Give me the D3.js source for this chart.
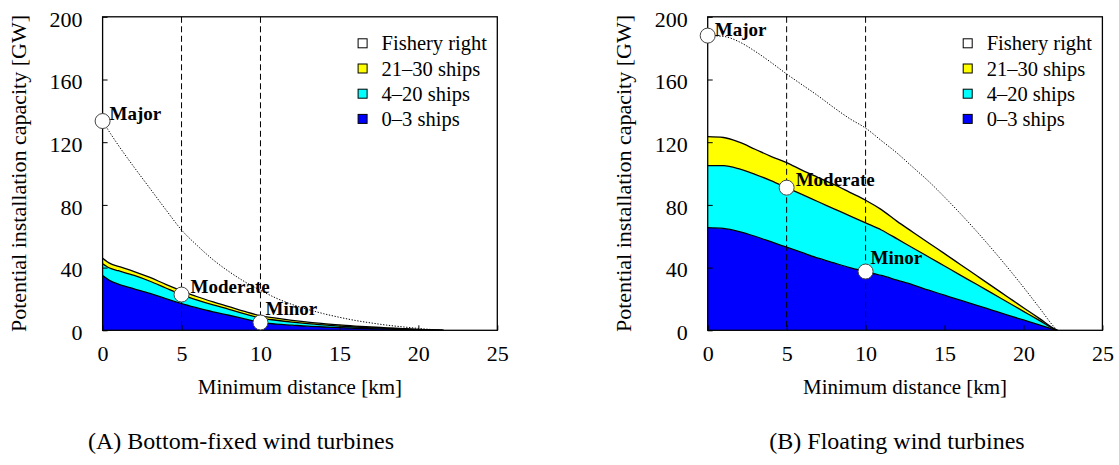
<!DOCTYPE html>
<html><head><meta charset="utf-8">
<script src="https://cdn.jsdelivr.net/npm/d3@7"></script>
<style>
body{margin:0;background:#fff}
text{font-family:"Liberation Serif","Times New Roman",serif;fill:#000}
</style>
</head><body>
<svg id="chart" width="1119" height="465"></svg>
<script>
// ---------- data ----------
const seriesNames = ["0–3 ships", "4–20 ships", "21–30 ships"];
const legendNames = ["Fishery right", "21–30 ships", "4–20 ships", "0–3 ships"];
const xTicks = [0, 5, 10, 15, 20, 25];
const yTicks = [0, 40, 80, 120, 160, 200];
const markerNames = ["Major", "Moderate", "Minor"];
const markerDist = [0, 5, 10];

// (A) Bottom-fixed
const kmA      = [0,0.5,1,2,3,4,5,6,7,8,9,10,11,12,13,14,15,16,17,18,19,20,21,21.6];
const a_0_3    = [35,31.5,29.5,26.5,23.5,20.2,17,14.3,11.8,9.6,7.3,5.0,4.0,3.3,2.6,2.1,1.7,1.3,1.0,0.8,0.5,0.3,0.1,0];
const a_4_20   = [7.5,8,8.5,8.5,7.8,6.8,5.8,5.0,4.4,3.8,3.2,2.8,2.4,1.9,1.6,1.3,1.0,0.8,0.6,0.4,0.3,0.1,0.05,0];
const a_21_30  = [3.5,3.0,2.8,2.5,2.4,2.3,2.4,2.1,1.9,1.7,1.5,1.5,1.3,1.1,1.0,0.9,0.7,0.6,0.5,0.4,0.3,0.2,0.05,0];
const a_fish   = [133.5,125.5,118,104,90.5,77,64,54,45,37.5,31,25.5,20.5,16.5,13.3,10.6,8.3,6.3,4.7,3.3,2.2,1.2,0.4,0];

// (B) Floating
const kmB      = [0,1,2,3,4,5,6,7,8,9,10,11,12,13,14,15,16,17,18,19,20,21,22,22.15];
const b_0_3    = [65.5,65,63,60,56.5,53,49.5,46,43,40,37.5,35,32,29,25.6,22.4,19.2,16.1,12.9,9.7,6.6,3.5,0.3,0];
const b_4_20   = [39.5,40,40,39.5,39,38,37,36,34.5,33,31,29,26.3,23.5,21.2,18.6,16,13.4,10.8,8.2,5.5,2.8,0.3,0];
const b_21_30  = [18.5,18,17,16,15.5,16,15.5,15.5,15.5,15,14.5,13,11.2,10.1,8.9,7.9,6.8,5.6,4.5,3.4,2.3,1.3,0.1,0];
const b_fish   = [188,187.5,184,178,171,163.5,156.5,149.5,142,135,129,121,113,104,95,85,74.5,63.5,52,40,27.5,14.5,1.5,0];

const captions = ["(A) Bottom-fixed wind turbines", "(B) Floating wind turbines"];

// ---------- styles / layout ----------
const colors = {"0–3 ships":"#0000ff","4–20 ships":"#00ffff","21–30 ships":"#ffff00","Fishery right":"#ffffff"};
const W = 394.7, H = 313.5, TOP = 16.8;
const panels = [
  {left:102.6, km:kmA, s:[a_0_3,a_4_20,a_21_30], fish:a_fish, cap:captions[0], capX:241,
   lab:[[7,-1],[9,-2],[5,-7]]},
  {left:707.7, km:kmB, s:[b_0_3,b_4_20,b_21_30], fish:b_fish, cap:captions[1], capX:897,
   lab:[[7,0],[9,-2],[5,-8]]}
];

const svg = d3.select("#chart");
svg.append("rect").attr("width",1119).attr("height",465).attr("fill","#fff");

panels.forEach(p => {
  const g = svg.append("g").attr("transform",`translate(${p.left},${TOP})`);
  const x = d3.scaleLinear().domain([0,25]).range([0,W]);
  const y = d3.scaleLinear().domain([0,200]).range([H,0]);

  const rows = p.km.map((k,i)=>{
    const r = {km:k, fish:p.fish[i]};
    seriesNames.forEach((n,j)=> r[n] = p.s[j][i]);
    return r;
  });
  const stack = d3.stack().keys(seriesNames)(rows);
  const curve = d3.curveMonotoneX;

  g.append("path").datum(rows)
    .attr("d", d3.area().curve(curve).x(d=>x(d.km)).y0(y(0)).y1(d=>y(d.fish)))
    .attr("fill", colors["Fishery right"]);

  const area = d3.area().curve(curve).x(d=>x(d.data.km)).y0(d=>y(d[0])).y1(d=>y(d[1]));
  const topLine = d3.line().curve(curve).x(d=>x(d.data.km)).y(d=>y(d[1]));
  g.selectAll(".layer").data(stack).enter().append("path")
    .attr("d", area).attr("fill", d=>colors[d.key]);
  g.selectAll(".topline").data(stack).enter().append("path")
    .attr("d", topLine).attr("fill","none").attr("stroke","#000").attr("stroke-width",1.3);

  g.append("path").datum(rows)
    .attr("d", d3.line().curve(curve).x(d=>x(d.km)).y(d=>y(d.fish)))
    .attr("fill","none").attr("stroke","#000").attr("stroke-width",1)
    .attr("stroke-dasharray","1.3,1.6");

  [5,10].forEach(v=>{
    g.append("line").attr("x1",x(v)).attr("x2",x(v)).attr("y1",0).attr("y2",H)
      .attr("stroke","#000").attr("stroke-width",1).attr("stroke-dasharray","6,3.5");
  });

  const ya = g.append("g").call(d3.axisLeft(y).tickValues(yTicks).tickSize(-5).tickPadding(20));
  const xa = g.append("g").attr("transform",`translate(0,${H})`)
    .call(d3.axisBottom(x).tickValues(xTicks).tickSize(-5).tickPadding(15));
  [ya,xa].forEach(a=>{
    a.select(".domain").remove();
    a.selectAll(".tick line").attr("stroke","#000").attr("stroke-width",1);
    a.selectAll("text").style("font-family",'"Liberation Serif",serif').style("font-size","22px").attr("fill","#000");
  });
  ya.selectAll("text").attr("dy","0.42em");

  g.append("rect").attr("x",0).attr("y",0).attr("width",W).attr("height",H)
    .attr("fill","none").attr("stroke","#000").attr("stroke-width",1.3);

  const stackAt = (layer,k)=> stack[layer].find(d=>d.data.km===k)[1];
  const markerVals = [rows.find(r=>r.km===0).fish, stackAt(1,5), stackAt(0,10)];
  markerNames.forEach((n,i)=>{
    const cx = x(markerDist[i]), cy = y(markerVals[i]);
    g.append("circle").attr("cx",cx).attr("cy",cy).attr("r",7.5)
      .attr("fill","#fff").attr("stroke","#444").attr("stroke-width",1);
    g.append("text").attr("x",cx+p.lab[i][0]).attr("y",cy+p.lab[i][1])
      .style("font-size","19px").style("font-weight","bold").text(n);
  });

  legendNames.forEach((n,i)=>{
    const ly = 26.5 + i*25.2;
    g.append("rect").attr("x",255.5).attr("y",ly-4.5).attr("width",9).attr("height",9)
      .attr("fill",colors[n]).attr("stroke","#000").attr("stroke-width",1);
    g.append("text").attr("x",279).attr("y",ly).attr("dy","0.35em")
      .style("font-size","20.5px").text(n);
  });

  g.append("text").attr("x",W/2).attr("y",H+64).attr("text-anchor","middle")
    .style("font-size","21px").text("Minimum distance [km]");
  g.append("text").attr("transform",`translate(${-77},${H/2}) rotate(-90)`)
    .attr("text-anchor","middle").style("font-size","22px")
    .text("Potential installation capacity [GW]");

  svg.append("text").attr("x",p.capX).attr("y",449).attr("text-anchor","middle")
    .style("font-size","24px").text(p.cap);
});
</script>
</body></html>
